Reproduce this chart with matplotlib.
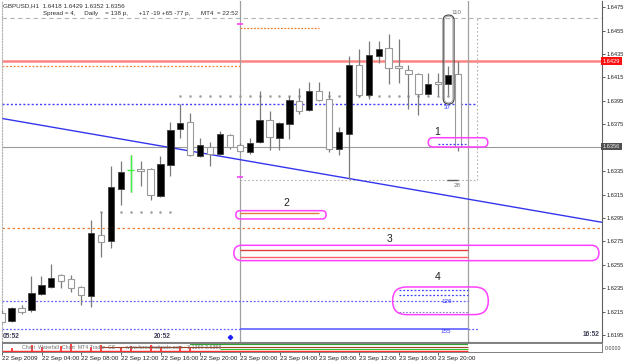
import numpy as np
import matplotlib
matplotlib.use('Agg')
import matplotlib.pyplot as plt
from matplotlib.patches import FancyBboxPatch

plt.rcParams['font.family'] = ['Liberation Sans', 'DejaVu Sans']
FS = 4.5

# ---------------- data (GBPUSD H1, bar index = hours since 22 Sep 2009 00:00) -------------
opens  = [1.6214, 1.6207, 1.6218, 1.6216, 1.6230, 1.6236, 1.6246, 1.6243, 1.6236, 1.6228,
          1.6280, 1.6275, 1.6320, 1.6336, 1.6337, 1.6337, 1.6314, 1.6340, 1.6371, 1.6377,
          1.6348, 1.6356, 1.6350, 1.6366, 1.6357, 1.6351, 1.6360, 1.6379, 1.6363, 1.6375,
          1.6395, 1.6387, 1.6403, 1.6397, 1.6354, 1.6367, 1.6426, 1.6400, 1.6433, 1.6440,
          1.6425, 1.6421, 1.6418, 1.6401, 1.6411, 1.6409, 1.6418]
highs  = [1.6216, 1.6219, 1.6221, 1.6245, 1.6245, 1.6256, 1.6247, 1.6246, 1.6237, 1.6293,
          1.6300, 1.6339, 1.6344, 1.6349, 1.6344, 1.6338, 1.6348, 1.6377, 1.6392, 1.6385,
          1.6363, 1.6360, 1.6369, 1.6367, 1.6359, 1.6363, 1.6403, 1.6386, 1.6377, 1.6399,
          1.6406, 1.6411, 1.6411, 1.6403, 1.6373, 1.6433, 1.6439, 1.6446, 1.6446, 1.6452,
          1.6448, 1.6426, 1.6419, 1.6419, 1.6419, 1.6425, 1.6429]
lows   = [1.6205, 1.6206, 1.6213, 1.6215, 1.6229, 1.6235, 1.6235, 1.6232, 1.6221, 1.6219,
          1.6262, 1.6269, 1.6306, 1.6317, 1.6322, 1.6310, 1.6313, 1.6331, 1.6363, 1.6348,
          1.6347, 1.6339, 1.6349, 1.6354, 1.6351, 1.6350, 1.6359, 1.6353, 1.6353, 1.6362,
          1.6384, 1.6386, 1.6395, 1.6351, 1.6349, 1.6328, 1.6398, 1.6397, 1.6427, 1.6409,
          1.6410, 1.6388, 1.6383, 1.6400, 1.6400, 1.6400, 1.6352]
closes = [1.6206, 1.6218, 1.6215, 1.6231, 1.6238, 1.6244, 1.6241, 1.6235, 1.6229, 1.6282,
          1.6274, 1.6321, 1.6334, 1.6336, 1.6335, 1.6315, 1.6341, 1.6370, 1.6376, 1.6349,
          1.6357, 1.6350, 1.6367, 1.6356, 1.6352, 1.6359, 1.6379, 1.6364, 1.6376, 1.6396,
          1.6386, 1.6403, 1.6396, 1.6354, 1.6368, 1.6426, 1.6400, 1.6434, 1.6439, 1.6423,
          1.6423, 1.6418, 1.6401, 1.6409, 1.6409, 1.6417, 1.6356]
green_bars = [13]

time_tick_idx = [0, 4, 8, 12, 16, 20, 24, 28, 32, 36, 40, 44]
time_tick_labels = ['22 Sep 2009', '22 Sep 04:00', '22 Sep 08:00', '22 Sep 12:00',
                    '22 Sep 16:00', '22 Sep 20:00', '23 Sep 00:00', '23 Sep 04:00',
                    '23 Sep 08:00', '23 Sep 12:00', '23 Sep 16:00', '23 Sep 20:00']
price_ticks = [1.6475, 1.6455, 1.6435, 1.6415, 1.6395, 1.6375, 1.6335, 1.6315,
               1.6295, 1.6275, 1.6255, 1.6235, 1.6215, 1.6195]

header_line1 = 'GBPUSD,H1  1.6418 1.6429 1.6352 1.6356'
header_line2 = 'Spread = 4,     Daily    = 138 p,      +17 -19 +65 -77 p,      MT4  = 22:52'

last_price = 1.6356
day_high = 1.6429
range_top = 1.6466
range_bottom = 1.6327
range_idx = [24, 47.9]
vertical_idx = [24, 47]

trend_p1 = (0, 1.6380)
trend_p2 = (60, 1.6292)

orange_top = 1.6457
orange_left = 1.6425
orange_full = 1.6286
orange_seg2 = 1.6299
gray_dots_hi = 1.6399
gray_dots_lo = 1.6300
blue_37 = 1.6392
blue_box1 = 1.6358
red_box3 = [1.6268, 1.6262]
blue_box4 = [1.6233, 1.6229]
blue_126 = 1.6224
gray_box4 = 1.6215
blue_155 = 1.6200

magenta_caps = [(43.0, 49.0, 1.63556, 1.63635),
                (23.6, 32.7, 1.62941, 1.63012),
                (23.4, 60.2, 1.62585, 1.62716),
                (39.4, 49.05, 1.62124, 1.62360)]
candle_cap = (44.5, 45.6, 1.63923, 1.64683)
cap_numbers = [('1', 43.9, 1.6368), ('2', 28.7, 1.63075), ('3', 39.1, 1.62768), ('4', 43.95, 1.62443)]
small_labels = [('110', 45.8, 1.64703, '#707070'), ('37', 44.9, 1.63890, '#3030ff'),
                ('28', 45.9, 1.63223, '#707070'), ('126', 44.9, 1.62240, '#3030ff'),
                ('155', 44.8, 1.61976, '#3030ff')]
session_labels = [('05:52', 0.1), ('20:52', 15.3)]

# ---------------- figure ----------------
W, H = 625, 361
fig = plt.figure(figsize=(W / 100, H / 100), dpi=100)
fig.patch.set_facecolor('white')
ax = fig.add_axes([2 / W, 19 / H, 600 / W, 341 / H])
ax2 = fig.add_axes([2 / W, 9 / H, 600 / W, 9 / H])
ov = fig.add_axes([0, 0, 1, 1], facecolor='none')
ov.set_xlim(0, W); ov.set_ylim(H, 0); ov.axis('off')

XL = (0.03, 60.51)
ax.set_xlim(*XL)
ax.set_ylim(1.61890, 1.64803)

o, h, l, c = map(np.array, (opens, highs, lows, closes))
x = np.arange(len(o))

# reference lines
ax.axhline(range_top, color='#b4b4b4', lw=0.8, ls=(0, (4, 3)), zorder=1)
ax.axhline(day_high, color='#ff8484', lw=1.8, zorder=1)
ax.axhline(last_price, color='#9a9a9a', lw=0.8, zorder=1)
ax.axhline(orange_full, color='#f08030', lw=0.9, ls=(0, (2, 2)), zorder=1)
for vi in vertical_idx:
    ax.axvline(vi, color='#a0a0a0', lw=0.9, zorder=1)
ax.hlines(range_bottom, range_idx[0], range_idx[1], color='#b0b0b0', lw=0.8, ls=(0, (1.5, 2)), zorder=1)
ax.vlines(range_idx[1], range_bottom, range_top, color='#b0b0b0', lw=0.8, ls=(0, (1.5, 2)), zorder=1)
ax.hlines(orange_top, 24, 32, color='#f08030', lw=0.9, ls=(0, (1.5, 1.2)), zorder=2)
ax.hlines(orange_left, XL[0], 24, color='#f08030', lw=0.9, ls=(0, (1.5, 1.5)), zorder=2)
ax.plot(np.arange(18, 47), np.full(29, gray_dots_hi), ls='none', marker='s', ms=0.8, color='#a0a0a0', zorder=2)
ax.plot(np.arange(10, 18), np.full(8, gray_dots_lo), ls='none', marker='s', ms=0.8, color='#a0a0a0', zorder=2)
ax.hlines(blue_37, XL[0], 47.8, color='#4040ff', lw=1.0, ls=(0, (1.5, 1.5)), zorder=2)
ax.hlines(blue_box1, 44, 46.8, color='#4040ff', lw=0.9, ls=(0, (1.5, 1.5)), zorder=5)
ax.hlines(orange_seg2, 24, 32, color='#e08040', lw=1.0, zorder=2)
ax.hlines(red_box3[0], 24, 47, color='#e04040', lw=1.0, zorder=2)
ax.hlines(red_box3[1], 24, 47, color='#ff6060', lw=1.0, zorder=2)
for pb in blue_box4:
    ax.hlines(pb, 40, 47, color='#4040ff', lw=0.9, ls=(0, (1.5, 1.5)), zorder=2)
ax.hlines(blue_126, XL[0], 47, color='#6060ff', lw=0.9, ls=(0, (1.5, 1.5)), zorder=2)
ax.hlines(gray_box4, 40, 47, color='#8080d0', lw=0.8, ls=(0, (1.5, 1.5)), zorder=2)
ax.hlines(blue_155, XL[0], 24, color='#6060ff', lw=0.9, ls=(0, (1.5, 1.5)), zorder=2)
ax.hlines(blue_155, 24, 47, color='#6060ff', lw=1.2, zorder=2)
ax.hlines(blue_155, 47, 48, color='#6060ff', lw=0.9, ls=(0, (1.5, 1.5)), zorder=2)
ax.hlines(range_bottom, 44.9, 46, color='#606060', lw=1.0, zorder=2)
ax.plot([24, 24], [1.64604, 1.63302], ls='none', marker='_', ms=4, mew=1.2, color='#ff40ff', zorder=3)
ax.axline(trend_p1, trend_p2, color='#3535f0', lw=1.0, zorder=2)

# candles
ax.vlines(x, l, h, color='#7a7a7a', lw=0.9, zorder=3)
bull = c > o
norm = np.array([i not in green_bars for i in x])
lo_b = np.minimum(o, c)
hb = np.maximum(np.abs(c - o), 0.00002)
ax.bar(x[norm & bull], hb[norm & bull], 0.64, bottom=lo_b[norm & bull], color='black',
       edgecolor='#404040', lw=0.6, zorder=4)
ax.bar(x[norm & ~bull], hb[norm & ~bull], 0.64, bottom=lo_b[norm & ~bull], color='white',
       edgecolor='#9a9a9a', lw=0.8, zorder=4)
for gi in green_bars:
    ax.vlines(gi, l[gi], h[gi], color='#40f040', lw=1.0, zorder=5)
    ax.hlines(o[gi], gi - 0.32, gi + 0.32, color='#40f040', lw=1.0, zorder=5)

# session labels
for txt, xi in session_labels:
    ax.text(xi, 1.61933, txt, fontsize=FS + 0.3, fontweight='bold', color='#404058', va='center', ha='left', zorder=6)
ax.text(60.3, 1.6195, '16:52', fontsize=FS + 0.3, fontweight='bold', color='#404058', va='center', ha='right', zorder=6)
ax.plot([23], [1.61933], marker='D', ms=2.2, color='#2020ff', zorder=6)

# axes styling
ax.set_xticks([])
ax.yaxis.tick_right()
ax.set_yticks(price_ticks)
ax.set_yticklabels([f'{p:.4f}' for p in price_ticks])
ax.tick_params(axis='y', length=2.5, width=0.6, color='#404040', labelsize=4.1, pad=0.6, labelcolor='#202020')
ax.spines['top'].set_visible(False)
ax.spines['left'].set_color('#b0b0b0'); ax.spines['left'].set_linestyle((0, (1, 1.5)))
ax.spines['right'].set_color('#606060'); ax.spines['bottom'].set_color('#808080')
for s in ax.spines.values():
    s.set_linewidth(0.8)

# price boxes
bt = ax.get_yaxis_transform()
ax.text(1.0015, day_high, f'{day_high:.4f}', transform=bt, fontsize=4.1, color='white', va='center', ha='left',
        bbox=dict(boxstyle='square,pad=0.25', fc='#ff1010', ec='none'), zorder=7)
ax.text(1.0015, last_price, f'{last_price:.4f}', transform=bt, fontsize=4.1, color='#f0f0f0', va='center', ha='left',
        bbox=dict(boxstyle='square,pad=0.25', fc='#505050', ec='none'), zorder=7)

# labels in chart
for t, xi, yp in cap_numbers:
    ax.text(xi, yp, t, fontsize=7.5, color='#202020', ha='center', va='center', zorder=6)
for t, xi, yp, col in small_labels:
    ax.text(xi, yp, t, fontsize=FS, color=col, ha='center', va='center', zorder=6)

# capsules (drawn in pixel space through the data transform)
fig.canvas.draw()
inv = ov.transData.inverted()
def to_px(i, p):
    return inv.transform(ax.transData.transform((i, p)))

def capsule(i0, i1, p0, p1, **kw):
    (x0, y0) = to_px(i0, p1)
    (x1, y1) = to_px(i1, p0)
    hh = y1 - y0
    ov.add_patch(FancyBboxPatch((x0, y0), x1 - x0, hh,
                                boxstyle=f'round,pad=0,rounding_size={hh / 2:.2f}',
                                fc='none', **kw))

for cap in magenta_caps:
    capsule(*cap, ec='#ff40ff', lw=1.1, zorder=8)
i0, i1, p0, p1 = candle_cap
(cx0, cy0) = to_px(i0, p1); (cx1, cy1) = to_px(i1, p0)
rw = (cx1 - cx0) / 2
ov.add_patch(FancyBboxPatch((cx0, cy0), cx1 - cx0, cy1 - cy0,
                            boxstyle=f'round,pad=0,rounding_size={rw:.2f}', fc='none', ec='#404040', lw=0.8))
ov.add_patch(FancyBboxPatch((cx0 + 1.2, cy0 + 1.2), cx1 - cx0 - 2.4, cy1 - cy0 - 2.4,
                            boxstyle=f'round,pad=0,rounding_size={rw - 1.2:.2f}', fc='none', ec='#a0a0a0', lw=0.6))

# header
fig.text(3 / W, 1 - 5.5 / H, header_line1, fontsize=FS, color='#303030', va='center', ha='left')
fig.text(43 / W, 1 - 13.5 / H, header_line2, fontsize=FS, color='#303030', va='center', ha='left')

# indicator strip
ax2.set_xlim(*XL); ax2.set_ylim(0, 1)
strip_red_idx = [0, 1, 3, 4, 6, 7, 9, 10, 12, 13, 15, 16, 18, 19]
strip_red_h = [0.7, 0.5, 0.8, 0.6, 0.7, 0.9, 0.6, 0.8, 0.5, 0.7, 0.8, 0.6, 0.7, 0.5]
ax2.vlines(strip_red_idx, 0.1, strip_red_h, color='#ff2020', lw=1.2)
ax2.hlines(0.12, 0, 47, color='#ff3030', lw=1.0)
ax2.hlines(0.85, 19, 47, color='#30a030', lw=1.6)
ax2.hlines(0.55, 10, 47, color='#a04020', lw=0.8)
ax2.hlines(0.35, 22, 47, color='#30c030', lw=0.8)
ax2.text(2, 0.55, 'Chart  Waterfall  Chart  MT4 Trader  CS  ...  www.forex-tsdtrade.com   3.1369 3.6358',
         fontsize=3.8, color='#707070', va='center', ha='left')
ax2.set_yticks([])
ax2.set_xticks(time_tick_idx)
ax2.set_xticklabels(time_tick_labels)
for lb in ax2.get_xticklabels():
    lb.set_ha('left')
ax2.tick_params(axis='x', length=2, width=0.6, color='#404040', labelsize=FS, pad=0.8, labelcolor='#202020')
for s in ax2.spines.values():
    s.set_color('#808080'); s.set_linewidth(0.7)
fig.text(605 / W, 1 - 348 / H, '0.0000', fontsize=3.8, color='#404040', va='center')

fig.savefig('out.png', dpi=100)
